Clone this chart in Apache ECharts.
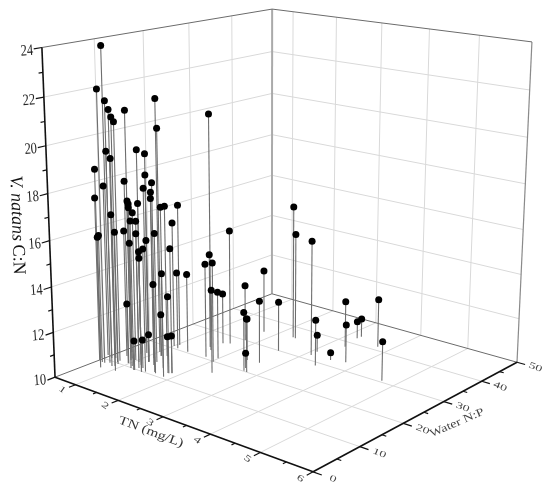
<!DOCTYPE html>
<html>
<head>
<meta charset="utf-8">
<style>
  html, body { margin: 0; background: #fff; }
  #chart { width: 550px; height: 489px; }
</style>
</head>
<body>
<div id="chart"></div>
<script src="https://cdn.jsdelivr.net/npm/echarts@6/dist/echarts.min.js"></script>
<script>
// values, one entry per sample
const tnValues = [0.73,0.66,0.59,1.06,0.80,0.79,1.17,1.02,1.17,1.63,0.86,0.64,1.42,1.20,0.76,0.50,0.44,0.98,1.04,1.65,1.14,
  0.88,1.37,0.91,1.12,0.65,0.84,1.86,1.25,1.05,0.97,1.27,1.08,0.90,1.01,0.87,0.72,1.27,1.31,1.67,0.60,0.45,1.20,
  0.87,1.86,1.47,1.20,1.42,1.58,1.13,1.38,0.98,1.60,1.82,1.17,1.20,1.28,1.32,1.80,1.85,1.52,1.78,2.03,2.35,1.99,
  1.57,1.76,1.74,2.66,2.70,2.77,2.42,2.64,2.55,3.47,3.09,3.51,3.31,3.77,3.22,3.23,3.75,4.73,2.32,2.38,3.11]
const npValues = [9.3,8.8,10.9,7.6,10.3,10.9,9.9,17.5,16.4,23.3,8.6,11.3,9.9,13.5,7.1,9.1,11.4,11.1,14.9,10.8,15.1,
  15.9,13.0,12.2,10.6,14.7,15.0,10.6,17.0,21.7,12.7,9.6,12.4,8.9,20.8,9.8,13.0,10.7,14.2,27.4,8.8,9.8,13.4,
  12.8,12.4,10.3,11.8,9.9,13.1,20.5,20.4,11.0,11.1,12.1,16.5,13.5,9.7,11.1,12.1,12.5,24.2,20.7,19.9,16.5,21.4,
  26.7,30.1,34.9,24.2,20.2,20.1,23.8,21.2,29.9,28.8,33.5,32.1,38.1,32.9,42.3,43.3,41.4,30.5,36.0,35.9,31.8]
const cnValues = [23.81,22.01,21.40,21.35,20.82,20.58,21.25,21.36,20.19,20.64,19.47,18.93,19.69,19.25,18.75,17.28,17.65,18.11,18.19,18.35,17.47,
  17.48,17.43,17.15,17.22,16.59,16.85,17.42,16.79,16.46,16.64,16.61,16.34,16.75,15.70,15.92,15.69,15.99,15.80,15.24,15.70,15.48,15.48,
  15.23,15.53,15.46,15.09,15.05,14.23,13.50,13.58,12.70,13.92,13.43,11.90,11.24,11.32,11.27,11.64,11.67,14.29,14.24,14.48,13.69,13.03,
  12.32,12.57,12.91,12.80,12.63,12.38,11.89,10.67,12.26,12.07,10.77,10.34,12.11,11.71,10.79,10.85,12.21,11.74,16.12,14.88,15.21]

// axis ticks
const tnTicks = [1, 2, 3, 4, 5, 6]
const tnMinor = [1.5, 2.5, 3.5, 4.5, 5.5]
const npTicks = [0, 10, 20, 30, 40, 50]
const npMinor = [5, 15, 25, 35, 45]
const cnTicks = [10, 12, 14, 16, 18, 20, 22, 24]
const cnMinor = [11, 13, 15, 17, 19, 21, 23]

const tnMin = 0.5, tnMax = 6, npMin = 0, npMax = 50, cnMin = 10, cnMax = 24

// where the box corners sit on the page, the camera is fitted to these
const boxCorners = [
  [0, 0, 0, 55, 377], [1, 0, 0, 313, 472], [1, 1, 0, 517, 362], [0, 1, 0, 272, 294],
  [0, 0, 1, 42, 47.5], [0, 1, 1, 272, 9], [1, 1, 1, 532, 42]
]

function fitCamera(corners) {
  const rows = [], rhs = []
  corners.forEach(([X, Y, Z, x, y]) => {
    rows.push([X, Y, Z, 1, 0, 0, 0, 0, -x * X, -x * Y, -x * Z]); rhs.push(x)
    rows.push([0, 0, 0, 0, X, Y, Z, 1, -y * X, -y * Y, -y * Z]); rhs.push(y)
  })
  const n = 11, m = []
  for (let i = 0; i < n; i++) {
    m[i] = []
    for (let j = 0; j < n; j++) m[i][j] = rows.reduce((s, r) => s + r[i] * r[j], 0)
    m[i][n] = rows.reduce((s, r, k) => s + r[i] * rhs[k], 0)
  }
  for (let i = 0; i < n; i++) {
    let p = i
    for (let k = i + 1; k < n; k++) if (Math.abs(m[k][i]) > Math.abs(m[p][i])) p = k
    ;[m[i], m[p]] = [m[p], m[i]]
    for (let k = 0; k < n; k++) {
      if (k === i) continue
      const f = m[k][i] / m[i][i]
      for (let j = i; j <= n; j++) m[k][j] -= f * m[i][j]
    }
  }
  return m.map((r, i) => r[n] / r[i])
}
const cam = fitCamera(boxCorners)

// data space to page space, the hidden x/y axes below carry page space
function project(tn, np, cn) {
  const u = (tn - tnMin) / (tnMax - tnMin), v = (np - npMin) / (npMax - npMin), w = (cn - cnMin) / (cnMax - cnMin)
  const d = cam[8] * u + cam[9] * v + cam[10] * w + 1
  return [(cam[0] * u + cam[1] * v + cam[2] * w + cam[3]) / d, (cam[4] * u + cam[5] * v + cam[6] * w + cam[7]) / d]
}

const gridLine = { stroke: '#d9d9d9', lineWidth: 1 }
const edgeLine = { stroke: '#6b6b6b', lineWidth: 1 }
const axisLine = { stroke: '#111', lineWidth: 1.6 }

// every straight line of the box, [from, to, style]
const boxLines = []
function addLine(a, b, style) { boxLines.push([a, b, style]) }

cnTicks.slice(1, -1).forEach(c => {
  addLine([tnMin, npMin, c], [tnMin, npMax, c], gridLine)
  addLine([tnMin, npMax, c], [tnMax, npMax, c], gridLine)
})
tnTicks.slice(0, -1).forEach(t => {
  addLine([t, npMax, cnMin], [t, npMax, cnMax], gridLine)
  addLine([t, npMin, cnMin], [t, npMax, cnMin], gridLine)
})
npTicks.slice(1, -1).forEach(n => {
  addLine([tnMin, n, cnMin], [tnMin, n, cnMax], gridLine)
  addLine([tnMin, n, cnMin], [tnMax, n, cnMin], gridLine)
})
addLine([tnMin, npMax, cnMin], [tnMin, npMax, cnMax], { stroke: '#aaa', lineWidth: 2 })
addLine([tnMax, npMax, cnMin], [tnMax, npMax, cnMax], { stroke: '#8a8a8a', lineWidth: 1.2 })
addLine([tnMin, npMin, cnMin], [tnMin, npMax, cnMin], edgeLine)
addLine([tnMin, npMax, cnMin], [tnMax, npMax, cnMin], edgeLine)
addLine([tnMin, npMin, cnMax], [tnMin, npMax, cnMax], edgeLine)
addLine([tnMin, npMax, cnMax], [tnMax, npMax, cnMax], edgeLine)

addLine([tnMin, npMin, cnMin], [tnMin, npMin, cnMax], axisLine)
addLine([tnMin, npMin, cnMin], [tnMax, npMin, cnMin], axisLine)
addLine([tnMax, npMin, cnMin], [tnMax, npMax, cnMin], axisLine)

const tickLine = { stroke: '#111', lineWidth: 1.2 }
tnTicks.forEach(t => addLine([t, npMin, cnMin], [t, -1.3, cnMin], tickLine))
tnMinor.forEach(t => addLine([t, npMin, cnMin], [t, -0.7, cnMin], tickLine))
npTicks.forEach(n => addLine([tnMax, n, cnMin], [tnMax + 0.16, n, cnMin], tickLine))
npMinor.forEach(n => addLine([tnMax, n, cnMin], [tnMax + 0.08, n, cnMin], tickLine))
cnTicks.forEach(c => addLine([tnMin, npMin, c], [tnMin, -1.5, c], tickLine))
cnMinor.forEach(c => addLine([tnMin, npMin, c], [tnMin, -0.8, c], tickLine))

const stemData = tnValues.map((t, i) => [t, npValues[i], cnValues[i]])

function renderBox(params, api) {
  const [a, b, style] = boxLines[params.dataIndex]
  const p = api.coord(project(a[0], a[1], a[2]))
  const q = api.coord(project(b[0], b[1], b[2]))
  return { type: 'line', shape: { x1: p[0], y1: p[1], x2: q[0], y2: q[1] }, style: style }
}

function renderStem(params, api) {
  const t = api.value(0), n = api.value(1), c = api.value(2)
  const p = api.coord(project(t, n, c))
  const q = api.coord(project(t, n, cnMin))
  return { type: 'line', shape: { x1: p[0], y1: p[1], x2: q[0], y2: q[1] }, style: { stroke: '#6e6e6e', lineWidth: 1.1 } }
}

function renderDot(params, api) {
  const p = api.coord(project(api.value(0), api.value(1), api.value(2)))
  return { type: 'circle', shape: { cx: p[0], cy: p[1], r: 3.5 }, style: { fill: '#000' } }
}

// tick labels
const tickLabels = []
tnTicks.forEach(t => tickLabels.push({ text: String(t), at: project(t, -2.6, cnMin), rotation: -0.62, scaleY: 0.65, size: 14, fill: '#444' }))
npTicks.forEach(n => tickLabels.push({ text: String(n), at: project(tnMax + 0.36, n, cnMin), rotation: -0.38, scaleY: 0.65, size: 14, fill: '#444' }))
cnTicks.forEach(c => {
  const p = project(tnMin, npMin, c)
  tickLabels.push({ text: String(c), at: [p[0] - 15, p[1] + 3.5], rotation: 0.07, scaleX: 0.78, size: 16, fill: '#222' })
})

function renderLabel(params, api) {
  const l = tickLabels[params.dataIndex]
  const p = api.coord(l.at)
  return {
    type: 'text', x: p[0], y: p[1], rotation: l.rotation, scaleX: l.scaleX || 1, scaleY: l.scaleY || 1,
    style: { text: l.text, fontFamily: 'Liberation Serif', fontSize: l.size, fill: l.fill, align: 'center', verticalAlign: 'middle' }
  }
}

const chart = echarts.init(document.getElementById('chart'))
chart.setOption({
  animation: false,
  grid: { left: 0, right: 0, top: 0, bottom: 0 },
  xAxis: { type: 'value', min: 0, max: 550, show: false },
  yAxis: { type: 'value', min: 0, max: 489, inverse: true, show: false },
  graphic: [
    {
      type: 'text', x: 17, y: 225, rotation: -1.535,
      style: {
        text: '{i|V. natans} {n|C:N}', align: 'center', verticalAlign: 'middle',
        rich: {
          i: { fontFamily: 'Liberation Serif', fontStyle: 'italic', fontSize: 18, fill: '#111' },
          n: { fontFamily: 'Liberation Serif', fontSize: 18, fill: '#111' }
        }
      }
    },
    {
      type: 'text', x: 151, y: 432, rotation: -0.36, scaleY: 0.78,
      style: { text: 'TN (mg/L)', fontFamily: 'Liberation Serif', fontSize: 15.5, fill: '#333', align: 'center', verticalAlign: 'middle' }
    },
    {
      type: 'text', x: 457, y: 423, rotation: 0.41, scaleY: 0.8,
      style: { text: 'Water N:P', fontFamily: 'Liberation Serif', fontSize: 14, fill: '#444', align: 'center', verticalAlign: 'middle' }
    }
  ],
  series: [
    { type: 'custom', renderItem: renderBox, data: boxLines.map((l, i) => [i, 0]), silent: true, clip: false, z: 1 },
    { type: 'custom', renderItem: renderLabel, data: tickLabels.map((l, i) => [i, 0]), silent: true, clip: false, z: 2 },
    { type: 'custom', renderItem: renderStem, data: stemData, silent: true, clip: false, z: 3 },
    { type: 'custom', renderItem: renderDot, data: stemData, silent: true, clip: false, z: 4 }
  ]
})
</script>
</body>
</html>
